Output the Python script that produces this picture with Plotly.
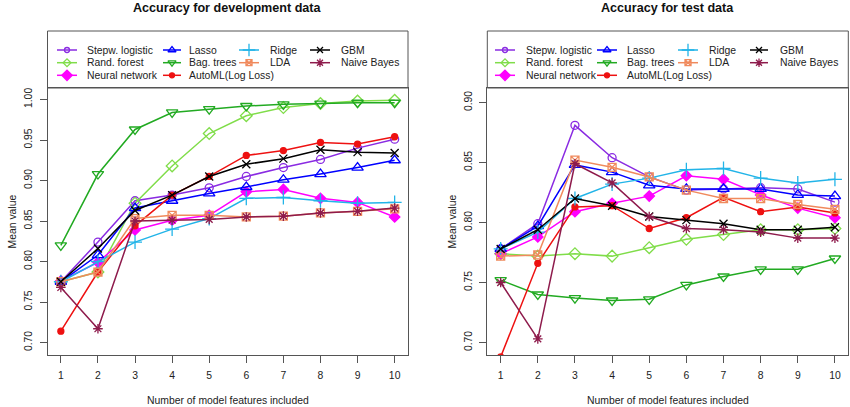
import plotly.graph_objects as go

W, H = 850, 407
x_vals = [1, 2, 3, 4, 5, 6, 7, 8, 9, 10]

names = ["Stepw. logistic", "Rand. forest", "Neural network", "Lasso", "Bag. trees",
         "AutoML(Log Loss)", "Ridge", "LDA", "GBM", "Naive Bayes"]

# development data
dev_stepw = [0.775, 0.824, 0.875, 0.882, 0.891, 0.905, 0.916, 0.926, 0.940, 0.951]
dev_rf = [0.775, 0.787, 0.872, 0.918, 0.958, 0.980, 0.990, 0.995, 0.998, 0.999]
dev_nn = [0.776, 0.799, 0.839, 0.851, 0.857, 0.886, 0.889, 0.878, 0.873, 0.855]
dev_lasso = [0.775, 0.808, 0.866, 0.875, 0.884, 0.892, 0.901, 0.908, 0.916, 0.925]
dev_bag = [0.820, 0.908, 0.963, 0.984, 0.988, 0.992, 0.994, 0.995, 0.996, 0.996]
dev_automl = [0.714, 0.787, 0.844, 0.882, 0.905, 0.931, 0.937, 0.947, 0.945, 0.954]
dev_ridge = [0.775, 0.800, 0.824, 0.840, 0.853, 0.878, 0.879, 0.875, 0.872, 0.873]
dev_lda = [0.775, 0.787, 0.853, 0.857, 0.857, 0.855, 0.856, 0.860, 0.862, 0.865]
dev_gbm = [0.775, 0.816, 0.863, 0.882, 0.905, 0.920, 0.927, 0.938, 0.935, 0.934]
dev_nb = [0.768, 0.717, 0.850, 0.851, 0.852, 0.855, 0.856, 0.860, 0.862, 0.866]

# test data
test_stepw = [0.778, 0.799, 0.881, 0.854, 0.838, 0.827, 0.828, 0.829, 0.828, 0.817]
test_rf = [0.774, 0.772, 0.774, 0.772, 0.779, 0.786, 0.790, 0.794, 0.794, 0.795]
test_nn = [0.774, 0.788, 0.809, 0.816, 0.822, 0.839, 0.836, 0.823, 0.812, 0.804]
test_lasso = [0.778, 0.797, 0.848, 0.842, 0.831, 0.828, 0.828, 0.828, 0.823, 0.822]
test_bag = [0.752, 0.740, 0.737, 0.735, 0.736, 0.748, 0.755, 0.761, 0.761, 0.770]
test_automl = [0.688, 0.766, 0.813, 0.814, 0.795, 0.804, 0.821, 0.809, 0.813, 0.808]
test_ridge = [0.778, 0.792, 0.820, 0.832, 0.837, 0.844, 0.845, 0.837, 0.833, 0.836]
test_lda = [0.772, 0.773, 0.852, 0.846, 0.838, 0.827, 0.820, 0.820, 0.815, 0.811]
test_gbm = [0.778, 0.794, 0.820, 0.814, 0.805, 0.802, 0.799, 0.794, 0.794, 0.796]
test_nb = [0.750, 0.703, 0.849, 0.833, 0.805, 0.795, 0.794, 0.792, 0.787, 0.787]

dev_series = [dev_stepw, dev_rf, dev_nn, dev_lasso, dev_bag, dev_automl, dev_ridge, dev_lda, dev_gbm, dev_nb]
test_series = [test_stepw, test_rf, test_nn, test_lasso, test_bag, test_automl, test_ridge, test_lda, test_gbm, test_nb]

colors = ["#8A2BE2", "#80DD4A", "#FF00FF", "#0000FF", "#22AA22",
          "#EE1111", "#22B4E8", "#F08A5D", "#000000", "#8E1B4C"]
symbols = ["circle-open", "diamond-open", "diamond", "triangle-up-open", "triangle-down-open",
           "circle", "cross-thin-open", "square-x-open", "x-thin-open", "asterisk-open"]
sizes = [8, 9, 8, 10, 10, 6, 10, 8, 8, 8]
leg_sizes = [5, 6, 8, 7, 7, 5, 9, 6, 6, 7]

titles = ["Accuracy for development data", "Accuracy for test data"]
y_ranges = [[0.6846, 1.0142], [0.6896, 0.9121]]
y_ticks = [[0.70, 0.75, 0.80, 0.85, 0.90, 0.95, 1.00], [0.70, 0.75, 0.80, 0.85, 0.90]]
x_title = "Number of model features included"
y_title = "Mean value"

FONT = "Liberation Sans, Arial, sans-serif"
FRAME = "#555555"

# pixel geometry
panels = [dict(x0=47.5, x1=408.0), dict(x0=487.3, x1=848.3)]
plot_top, plot_bot, leg_top = 88.0, 355.0, 31.0


def px(x):
    return x / W


def py(y):
    return 1 - y / H


fig = go.Figure()

for p, series in enumerate([dev_series, test_series]):
    xa = "x" if p == 0 else "x2"
    ya = "y" if p == 0 else "y2"
    for i, vals in enumerate(series):
        fig.add_trace(go.Scatter(
            x=x_vals, y=vals, mode="lines+markers", xaxis=xa, yaxis=ya,
            line=dict(color=colors[i], width=1.5),
            marker=dict(symbol=symbols[i], size=sizes[i], color=colors[i],
                        line=dict(color=colors[i], width=1.3)),
            showlegend=False, cliponaxis=True))

common_x = dict(range=[0.64, 10.36], tickvals=x_vals, ticks="outside", ticklen=7,
                tickcolor=FRAME, showline=True, mirror=True, linecolor=FRAME, linewidth=1,
                showgrid=False, zeroline=False, tickfont=dict(size=10.4, color="#222", family=FONT),
                ticklabelstandoff=4)
common_y = dict(ticks="outside", ticklen=7, tickcolor=FRAME, showline=True, mirror=True,
                linecolor=FRAME, linewidth=1, showgrid=False, zeroline=False, tickangle=-90,
                tickformat=".2f", tickfont=dict(size=10.4, color="#222", family=FONT),
                ticklabelstandoff=3)

layout = dict(
    width=W, height=H, margin=dict(l=0, r=0, t=0, b=0),
    paper_bgcolor="white", plot_bgcolor="rgba(0,0,0,0)", font=dict(family=FONT, color="#222"),
    xaxis=dict(domain=[px(panels[0]["x0"]), px(panels[0]["x1"])], anchor="y", **common_x),
    yaxis=dict(domain=[py(plot_bot), py(plot_top)], anchor="x", range=y_ranges[0],
               tickvals=y_ticks[0], **common_y),
    xaxis2=dict(domain=[px(panels[1]["x0"]), px(panels[1]["x1"])], anchor="y2", **common_x),
    yaxis2=dict(domain=[py(plot_bot), py(plot_top)], anchor="x2", range=y_ranges[1],
                tickvals=y_ticks[1], **common_y),
    xaxis3=dict(domain=[0, 1], range=[0, W], visible=False, anchor="y3", fixedrange=True),
    yaxis3=dict(domain=[0, 1], range=[H, 0], visible=False, anchor="x3", fixedrange=True),
    showlegend=False,
)
fig.update_layout(**layout)

shapes = []
annotations = []
for p in range(2):
    x0, x1 = panels[p]["x0"], panels[p]["x1"]
    shapes.append(dict(type="rect", xref="paper", yref="paper", x0=px(x0), x1=px(x1),
                       y0=py(plot_top), y1=py(leg_top), line=dict(color=FRAME, width=1),
                       fillcolor="rgba(0,0,0,0)", layer="above"))
    cx = (x0 + x1) / 2
    annotations.append(dict(text="<b>" + titles[p] + "</b>", xref="paper", yref="paper",
                            x=px(cx), y=py(8), xanchor="center", yanchor="middle",
                            showarrow=False, font=dict(size=12.6, family=FONT, color="#111")))
    annotations.append(dict(text=x_title, xref="paper", yref="paper", x=px(cx), y=py(400),
                            xanchor="center", yanchor="middle", showarrow=False,
                            font=dict(size=10.4, family=FONT, color="#222")))
    ycx = 12 if p == 0 else 452
    annotations.append(dict(text=y_title, xref="paper", yref="paper", x=px(ycx),
                            y=py((plot_top + plot_bot) / 2), xanchor="center", yanchor="middle",
                            textangle=-90, showarrow=False,
                            font=dict(size=10.4, family=FONT, color="#222")))

# legend layout (column-wise, 4 columns)
leg_rows = [50.0, 62.7, 75.3]
leg_cols = [
    [(57, 77, 85), (163, 181, 187), (239, 259, 268), (310, 330, 339)],
    [(495, 515, 524), (597, 617, 625), (678, 698, 707), (750, 768, 778)],
]
col_of = [0, 0, 0, 1, 1, 1, 2, 2, 3, 3]
row_of = [0, 1, 2, 0, 1, 2, 0, 1, 0, 1]
for p in range(2):
    for i, name in enumerate(names):
        gx0, gx1, tx = leg_cols[p][col_of[i]]
        gy = leg_rows[row_of[i]]
        fig.add_trace(go.Scatter(x=[gx0, gx1], y=[gy, gy], mode="lines", xaxis="x3", yaxis="y3",
                                 line=dict(color=colors[i], width=1.5), showlegend=False,
                                 hoverinfo="skip"))
        fig.add_trace(go.Scatter(x=[(gx0 + gx1) / 2], y=[gy], mode="markers", xaxis="x3", yaxis="y3",
                                 marker=dict(symbol=symbols[i], size=leg_sizes[i], color=colors[i],
                                             line=dict(color=colors[i], width=1.3)),
                                 showlegend=False, hoverinfo="skip"))
        annotations.append(dict(text=name, xref="paper", yref="paper", x=px(tx), y=py(gy),
                                xanchor="left", yanchor="middle", showarrow=False,
                                font=dict(size=10.4, family=FONT, color="#222")))

fig.update_layout(shapes=shapes, annotations=annotations)
fig.write_html("out.html")
